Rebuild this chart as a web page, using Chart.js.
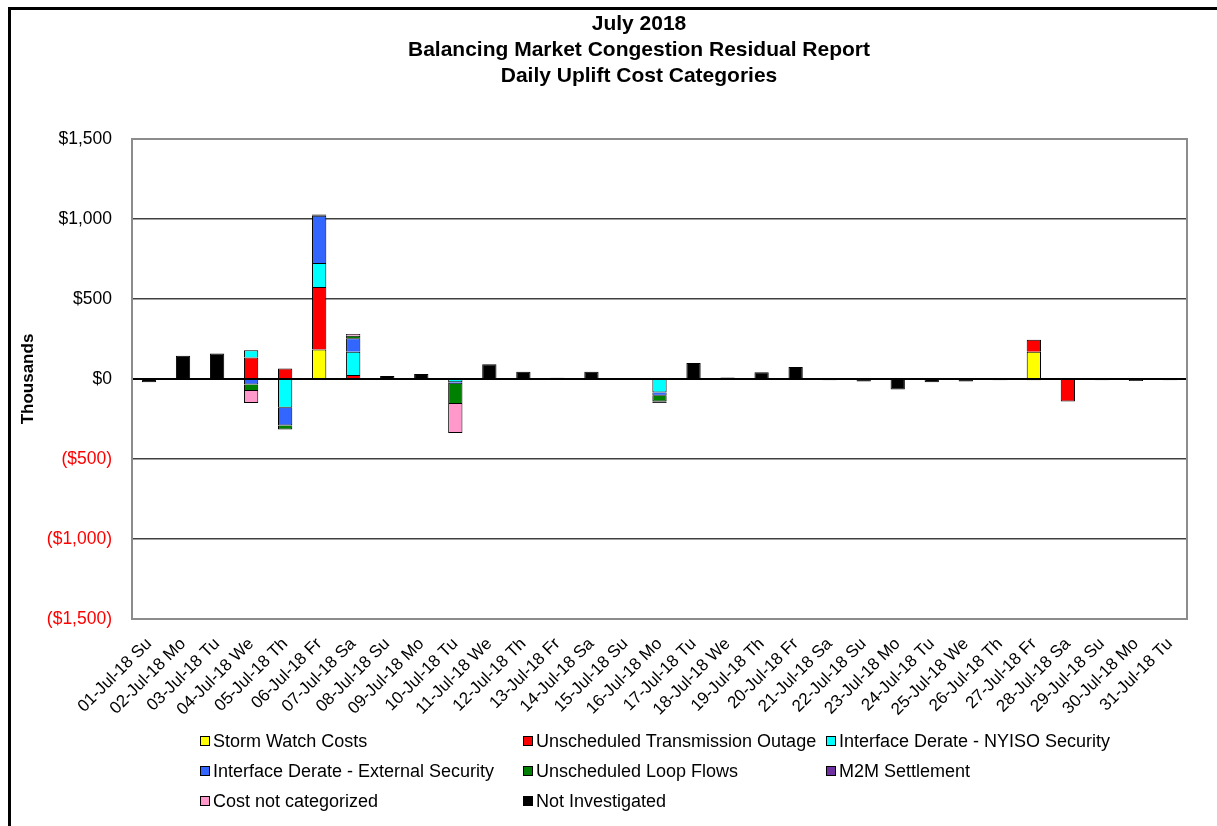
<!DOCTYPE html>
<html>
<head>
<meta charset="utf-8">
<script src="https://cdn.jsdelivr.net/npm/chart.js@4.4.1/dist/chart.umd.min.js"></script>
<style>
  html, body { margin: 0; padding: 0; background: #fff; }
  #wrap { position: relative; width: 1217px; height: 826px; overflow: hidden; }
  #legend {
    position: absolute; left: 200px; top: 726px;
    display: grid; grid-template-columns: 323px 303px 300px; grid-auto-rows: 30px;
    font: 18px "Liberation Sans", Arial, sans-serif; color: #000;
  }
  #legend .item { display: flex; align-items: center; white-space: nowrap; }
  #legend .box { width: 8px; height: 8px; border: 1px solid #000; margin-right: 3px; }
</style>
</head>
<body>
<div id="wrap">
  <canvas id="chart" width="1217" height="826"></canvas>
  <div id="legend"></div>
</div>
<script>
// 日付ラベル
const days = [
  '01-Jul-18 Su', '02-Jul-18 Mo', '03-Jul-18 Tu', '04-Jul-18 We', '05-Jul-18 Th',
  '06-Jul-18 Fr', '07-Jul-18 Sa', '08-Jul-18 Su', '09-Jul-18 Mo', '10-Jul-18 Tu',
  '11-Jul-18 We', '12-Jul-18 Th', '13-Jul-18 Fr', '14-Jul-18 Sa', '15-Jul-18 Su',
  '16-Jul-18 Mo', '17-Jul-18 Tu', '18-Jul-18 We', '19-Jul-18 Th', '20-Jul-18 Fr',
  '21-Jul-18 Sa', '22-Jul-18 Su', '23-Jul-18 Mo', '24-Jul-18 Tu', '25-Jul-18 We',
  '26-Jul-18 Th', '27-Jul-18 Fr', '28-Jul-18 Sa', '29-Jul-18 Su', '30-Jul-18 Mo',
  '31-Jul-18 Tu',
];

// 値（千ドル）
//                  01   02   03   04    05   06   07  08  09    10  11  12  13  14  15   16   17  18  19  20  21   22   23   24   25  26   27    28  29   30  31
const stormWatch = [ 0,   0,   0,   0,    0, 185,   0,  0,  0,    0,  0,  0,  0,  0,  0,   0,   0,  0,  0,  0,  0,   0,   0,   0,   0,  0, 170,    0,  0,   0,  0];
const txOutage   = [ 0,   0,   0, 135,   65, 390,  25,  0,  0,    0,  0,  0,  0,  0,  0,   0,   0,  0,  0,  0,  0,   0,   0,   0,   0,  0,  75, -140,  0,   0,  0];
const nyisoSec   = [ 0,   0,   0,  45, -180, 150, 145,  0,  0,  -20,  0,  0,  0,  0,  0, -85,   0,  0,  0,  0,  0,   0,   0,   0,   0,  0,   0,    0,  0,   0,  0];
const extSec     = [ 0,   0,   0, -35, -110, 295,  85,  0,  0,  -12,  0,  0,  0,  0,  0, -20,   0,  0,  0,  0,  0,   0,   0,   0,   0,  0,   0,    0,  0,   0,  0];
const loopFlows  = [ 0,   0,   0, -40,  -25,   0,  15,  0,  0, -125,  0,  0,  0,  0,  0, -35,   0,  0,  0,  0,  0,   0,   0,   0,   0,  0,   0,    0,  0,   0,  0];
const m2m        = [ 0,   0,   0,   0,    0,   0,   0,  0,  0,    0,  0,  0,  0,  0,  0,   0,   0,  0,  0,  0,  0,   0,   0,   0,   0,  0,   0,    0,  0,   0,  0];
const notCat     = [ 0,   0,   0, -75,    0,   0,  12,  0,  0, -180,  0,  0,  0,  0,  0,   0,   0,  0,  0,  0,  0,   0,   0,   0,   0,  0,   0,    0,  0,   0,  0];
const notInv     = [-20, 145, 160,  0,    0,   8,   0, 18, 32,    0, 92, 45,  8, 45,  5, -10, 100, 10, 42, 75, -8, -15, -65, -20, -15, -8,  -8,    5, -8, -12, -8];

const seriesNames = [
  'Storm Watch Costs', 'Unscheduled Transmission Outage', 'Interface Derate - NYISO Security',
  'Interface Derate - External Security', 'Unscheduled Loop Flows', 'M2M Settlement',
  'Cost not categorized', 'Not Investigated',
];
const seriesColors = ['#FFFF00', '#FF0000', '#00FFFF', '#3366FF', '#008000', '#7030A0', '#FF99CC', '#000000'];
const seriesValues = [stormWatch, txOutage, nyisoSec, extSec, loopFlows, m2m, notCat, notInv];

const titleLines = ['July 2018', 'Balancing Market Congestion Residual Report', 'Daily Uplift Cost Categories'];
const fontFamily = '"Liberation Sans", Arial, sans-serif';

const datasets = seriesNames.map((name, i) => ({
  label: name,
  data: seriesValues[i],
  backgroundColor: seriesColors[i],
  borderColor: '#000000',
  borderWidth: 1,
  barPercentage: 0.42,
  categoryPercentage: 1.0,
}));

// 外枠・タイトル・プロット枠
const frame = {
  id: 'frame',
  beforeDraw(chart) {
    const ctx = chart.ctx;
    ctx.save();
    ctx.fillStyle = '#fff';
    ctx.fillRect(0, 0, chart.width, chart.height);
    ctx.restore();
  },
  afterDraw(chart) {
    const { ctx, chartArea: { left, top, right, bottom } } = chart;
    ctx.save();
    // plot border
    ctx.strokeStyle = '#8c8c8c';
    ctx.lineWidth = 2;
    ctx.strokeRect(left, top, right - left, bottom - top);
    // outer border (left and top)
    ctx.strokeStyle = '#000';
    ctx.lineWidth = 3;
    ctx.beginPath();
    ctx.moveTo(9.5, chart.height + 5);
    ctx.lineTo(9.5, 8.5);
    ctx.lineTo(chart.width + 5, 8.5);
    ctx.stroke();
    // title
    ctx.fillStyle = '#000';
    ctx.font = 'bold 21px ' + fontFamily;
    ctx.textAlign = 'center';
    ctx.textBaseline = 'middle';
    titleLines.forEach((t, i) => ctx.fillText(t, 639, 24 + i * 26));
    ctx.restore();
  },
};

const fmtMoney = (v) => {
  const s = '$' + Math.abs(v).toLocaleString('en-US');
  return v < 0 ? '(' + s + ')' : s;
};

new Chart(document.getElementById('chart'), {
  type: 'bar',
  data: { labels: days, datasets: datasets },
  options: {
    responsive: false,
    animation: false,
    layout: { padding: { left: 10, right: 30, top: 139, bottom: 0 } },
    plugins: {
      legend: { display: false },
      title: { display: false },
      tooltip: { enabled: false },
    },
    scales: {
      x: {
        stacked: true,
        afterFit(scale) { scale.height = 207; },
        grid: { display: false },
        border: { display: false },
        ticks: {
          autoSkip: false,
          maxRotation: 45,
          minRotation: 45,
          padding: 7,
          color: '#000',
          font: { family: fontFamily, size: 17 },
        },
      },
      y: {
        stacked: true,
        min: -1500,
        max: 1500,
        afterFit(scale) { scale.width = 122; },
        border: { display: false },
        grid: {
          drawTicks: false,
          color: (c) => (c.tick.value === 0 ? '#000' : '#404040'),
          lineWidth: (c) => (c.tick.value === 0 ? 2 : 1.5),
        },
        ticks: {
          stepSize: 500,
          padding: 20,
          color: (c) => (c.tick.value < 0 ? '#FF0000' : '#000'),
          font: { family: fontFamily, size: 17.5 },
          callback: (v) => fmtMoney(v),
        },
        title: {
          display: true,
          text: 'Thousands',
          color: '#000',
          font: { family: fontFamily, size: 17, weight: 'bold' },
          padding: { top: 8, bottom: 0 },
        },
      },
    },
  },
  plugins: [frame],
});

// 凡例（HTML）
const legendEl = document.getElementById('legend');
seriesNames.forEach((name, i) => {
  const item = document.createElement('div');
  item.className = 'item';
  const box = document.createElement('span');
  box.className = 'box';
  box.style.background = seriesColors[i];
  const label = document.createElement('span');
  label.textContent = name;
  item.appendChild(box);
  item.appendChild(label);
  legendEl.appendChild(item);
});
</script>
</body>
</html>
